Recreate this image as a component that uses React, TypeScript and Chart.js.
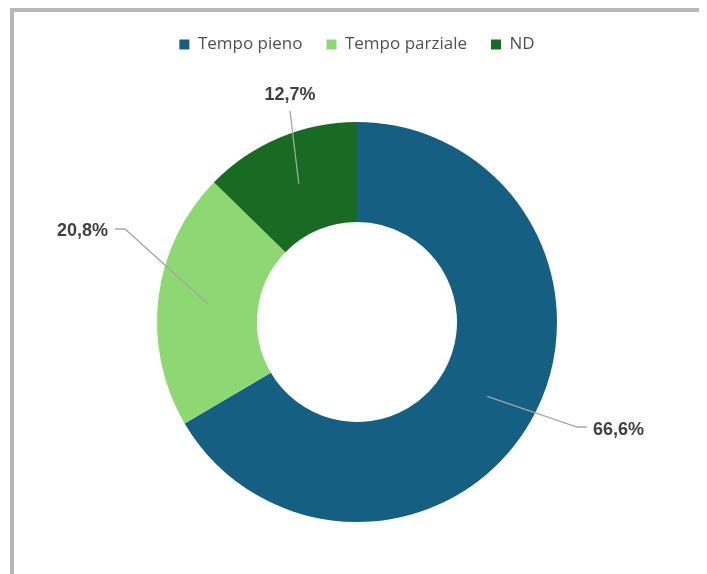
import React, { useEffect, useRef } from "react";
import { Chart, registerables } from "chart.js";

Chart.register(...registerables);

const categories = ["Tempo pieno", "Tempo parziale", "ND"];
const values = [66.6, 20.8, 12.7];
const valueLabels = ["66,6%", "20,8%", "12,7%"];
const colors = ["#156082", "#8ED873", "#196B24"];

// label leader-line elbow placement, in units of outer radius relative to center
const placements = [
  { dx: 1.1, dy: 0.525, side: "right" },
  { dx: -1.16, dy: -0.465, side: "left" },
  { dx: -0.335, dy: -1.055, side: "top" },
];

const legendMargin = {
  id: "legendMargin",
  beforeInit(chart: any) {
    const legend = chart.legend;
    if (!legend) return;
    const fit = legend.fit;
    legend.fit = function () {
      fit.call(this);
      this.height += 7;
    };
  },
};

const labelPlugin = {
  id: "leaderLabels",
  afterDatasetsDraw(chart: any) {
    const ctx = chart.ctx;
    const meta = chart.getDatasetMeta(0);
    ctx.save();
    meta.data.forEach((arc: any, i: number) => {
      const { x, y, startAngle, endAngle, innerRadius, outerRadius } = arc.getProps(
        ["x", "y", "startAngle", "endAngle", "innerRadius", "outerRadius"],
        true
      );
      const mid = (startAngle + endAngle) / 2;
      const r = (innerRadius + outerRadius) / 2;
      const ax = x + Math.cos(mid) * r;
      const ay = y + Math.sin(mid) * r;
      const p = placements[i];
      const ex = x + p.dx * outerRadius;
      const ey = y + p.dy * outerRadius;
      ctx.strokeStyle = "#A6A6A6";
      ctx.lineWidth = 1.3;
      ctx.beginPath();
      ctx.moveTo(ax, ay);
      ctx.lineTo(ex, ey);
      let tx = ex;
      let ty = ey;
      ctx.font = "bold 18px 'Liberation Sans', Arial, sans-serif";
      ctx.fillStyle = "#404040";
      if (p.side === "right") {
        ctx.lineTo(ex + 10, ey);
        tx = ex + 16;
        ctx.textAlign = "left";
        ctx.textBaseline = "middle";
        ty = ey + 3;
      } else if (p.side === "left") {
        ctx.lineTo(ex - 10, ey);
        tx = ex - 17;
        ctx.textAlign = "right";
        ctx.textBaseline = "middle";
        ty = ey + 2;
      } else {
        tx = ex;
        ty = ey - 16;
        ctx.textAlign = "center";
        ctx.textBaseline = "middle";
      }
      ctx.stroke();
      ctx.fillText(valueLabels[i], tx, ty);
    });
    ctx.restore();
  },
};

export default function App() {
  const ref = useRef<HTMLCanvasElement>(null);
  useEffect(() => {
    document.documentElement.style.overflow = "hidden";
    document.body.style.overflow = "hidden";
    const chart = new Chart(ref.current!, {
      type: "doughnut",
      data: {
        labels: categories,
        datasets: [
          {
            data: values,
            backgroundColor: colors,
            borderWidth: 0,
            hoverOffset: 0,
          },
        ],
      },
      options: {
        responsive: false,
        animation: false,
        radius: 200,
        cutout: "50%",
        layout: { padding: { top: 0, bottom: 0, left: 0, right: 0 } },
        plugins: {
          legend: {
            position: "top",
            labels: {
              boxWidth: 10,
              boxHeight: 10,
              padding: 24,
              color: "#505050",
              font: { size: 17, family: "'Open Sans', sans-serif" },
            },
          },
          tooltip: { enabled: false },
        },
      },
      plugins: [legendMargin, labelPlugin],
    });
    return () => chart.destroy();
  }, []);
  return (
    <div
      style={{
        marginLeft: 2,
        border: "4px solid #B7B7B7",
        width: 686,
        height: 562,
        background: "#fff",
      }}
    >
      <canvas ref={ref} width={686} height={562} style={{ display: "block" }} />
    </div>
  );
}
